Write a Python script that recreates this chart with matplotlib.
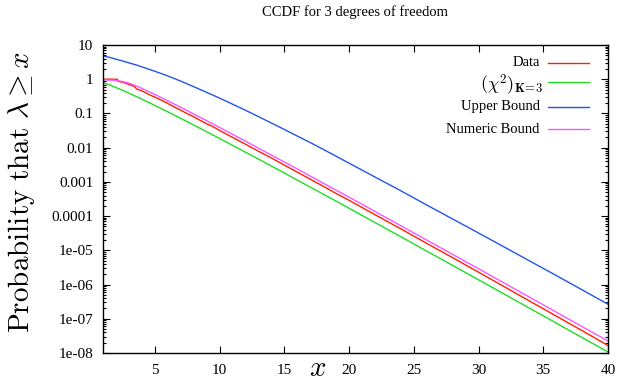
import matplotlib
matplotlib.use("Agg")
import matplotlib.pyplot as plt
from matplotlib.ticker import FixedLocator, LogLocator, NullFormatter

plt.rcParams['font.family'] = ['Liberation Serif', 'DejaVu Serif']
plt.rcParams['mathtext.fontset'] = 'cm'

# Datos
x_data = [1, 2.1, 2.15, 2.6, 3.1, 3.4, 3.6, 4.0, 4.6, 5, 5.5, 6, 6.5, 7, 7.5, 8, 8.5, 9, 9.5, 10,
          11, 12, 13, 14, 15, 16, 17, 18, 19, 20, 22, 24, 26, 28, 30, 32, 34, 36, 38, 40]
y_data = [1.0, 1.0, 0.88, 0.80, 0.68, 0.62, 0.52, 0.46, 0.35, 0.30, 0.245, 0.196, 0.155, 0.124,
          0.099, 0.080, 0.063, 0.050, 0.041, 0.032, 0.020, 0.0126, 0.0079, 0.0050, 0.0031,
          0.00193, 0.0012, 0.00075, 0.00046, 0.00029, 0.00011, 4.25e-5, 1.6e-5, 6.1e-6,
          2.3e-6, 8.6e-7, 3.2e-7, 1.2e-7, 4.5e-8, 1.65e-8]

x_curvas = [1, 1.5, 2, 2.5, 3, 3.5, 4, 5, 6, 7, 8, 9, 10, 11, 12, 13, 14, 15, 16, 17, 18, 19, 20,
            22, 24, 26, 28, 30, 32, 34, 36, 38, 40]
y_chi2 = [0.8013, 0.6823, 0.5724, 0.4753, 0.3916, 0.3208, 0.2615, 0.1718, 0.1116, 0.0719, 0.0460,
          0.0293, 0.01857, 0.01169, 0.00738, 0.00464, 0.00291, 0.00182, 0.00113, 0.000705,
          0.00044, 0.000274, 0.00017, 6.5e-5, 2.5e-5, 9.5e-6, 3.63e-6, 1.38e-6, 5.23e-7,
          1.98e-7, 7.49e-8, 2.82e-8, 1.07e-8]
y_upper = [4.82, 4.35, 3.85, 3.42, 3.01, 2.65, 2.30, 1.71, 1.25, 0.881, 0.607, 0.413, 0.281,
           0.187, 0.124, 0.0809, 0.0526, 0.0341, 0.0219, 0.0141, 0.00895, 0.00562, 0.00353,
           0.00139, 5.5e-4, 2.11e-4, 8.24e-5, 3.21e-5, 1.24e-5, 4.77e-6, 1.84e-6, 7.0e-7, 2.66e-7]
y_numeric = [0.96, 0.95, 0.92, 0.86, 0.77, 0.65, 0.54, 0.36, 0.234, 0.151, 0.0966, 0.0615, 0.039,
             0.0246, 0.0155, 0.0097, 0.0061, 0.0038, 0.0024, 0.00148, 0.00092, 0.00057, 0.00036,
             0.000137, 5.25e-5, 2.0e-5, 7.6e-6, 2.9e-6, 1.1e-6, 4.16e-7, 1.57e-7, 5.9e-8, 2.25e-8]

etiquetas = ["Data", r"$(\chi^{\mathbf{2}})_{\mathbf{K}\!\mathbf{=}\!\mathbf{3}}$",
             "Upper Bound", "Numeric Bound"]
colores = ["#ff2200", "#22dd22", "#2255ee", "#ff55ff"]

yticks = [10, 1, 0.1, 0.01, 0.001, 0.0001, 1e-5, 1e-6, 1e-7, 1e-8]
ytick_labels = ["10", "1", "0.1", "0.01", "0.001", "0.0001", "1e-05", "1e-06", "1e-07", "1e-08"]
xticks = [5, 10, 15, 20, 25, 30, 35, 40]

fig = plt.figure(figsize=(6.2, 3.85), dpi=100)
ax = fig.add_axes([103/620, 32/385, 505/620, 308/385])

series = [(x_data, y_data), (x_curvas, y_chi2), (x_curvas, y_upper), (x_curvas, y_numeric)]
for (xs, ys), c in zip(series, colores):
    ax.plot(xs, ys, color=c, lw=1.0)

ax.set_yscale("log")
ax.set_xlim(1, 40)
ax.set_ylim(1e-8, 10)
ax.yaxis.set_major_locator(FixedLocator(yticks))
ax.set_yticklabels(ytick_labels)
ax.yaxis.set_minor_locator(LogLocator(base=10, subs=range(2, 10), numticks=20))
ax.yaxis.set_minor_formatter(NullFormatter())
ax.set_xticks(xticks)
ax.tick_params(which="both", direction="in", top=True, right=True, labelsize=11, width=0.8)
ax.tick_params(which="major", length=5, pad=7)
ax.tick_params(which="minor", length=2.5)
ax.tick_params(axis="x", pad=8)
for s in ax.spines.values():
    s.set_linewidth(1.0)

# leyenda estilo gnuplot: texto a la derecha, muestra de linea despues
pos_y = [0.9416, 0.880, 0.799, 0.727]
for etq, c, py in zip(etiquetas, colores, pos_y):
    ax.plot([0.881, 0.962], [py, py], color=c, lw=1.0, transform=ax.transAxes)
    if etq.startswith("$"):
        ax.text(0.871, py - 0.01, etq, ha="right", va="center", fontsize=13,
                transform=ax.transAxes)
    else:
        ax.text(0.865, py, etq, ha="right", va="center", fontsize=10.5,
                transform=ax.transAxes)

fig.text(355/620, 1 - 12/385, "CCDF for 3 degrees of freedom", ha="center", va="center", fontsize=10.5)
fig.text(22/620, 0.5, r"$\mathrm{Probability\ that\ }\lambda \geq x$", rotation=90,
         ha="center", va="center", fontsize=21)
fig.text(318/620, 1 - 369/385, r"$x$", ha="center", va="center", fontsize=21)

fig.savefig("out.png", dpi=100)
